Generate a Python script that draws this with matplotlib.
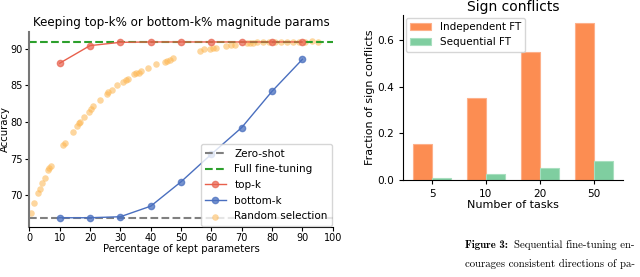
import numpy as np
import matplotlib
matplotlib.use("Agg")
from matplotlib import pyplot as plt

# left panel data
pct = [10, 20, 30, 40, 50, 60, 70, 80, 90]
topk = [88.0, 90.4, 90.85, 90.9, 90.9, 90.9, 90.9, 90.9, 90.9]
bottomk = [66.92, 66.92, 67.06, 68.5, 71.83, 75.6, 79.23, 84.18, 88.54]
zero_shot = 66.9
full_ft = 90.95

rand_x = [0.45, 1.6, 2.96, 3.5, 4.3, 5.2, 6.25, 6.6, 7.0, 11.0, 11.7, 14.3, 15.8, 16.4,
          16.7, 18.1, 19.6, 20.3, 21.1, 23.3, 25.5, 26.0, 27.4, 28.9, 30.9, 31.7, 32.6,
          34.4, 35.3, 36.1, 36.9, 39.1, 41.9, 44.6, 45.5, 46.3, 47.4, 56.2, 57.5, 59.4,
          60.5, 61.6, 64.9, 66.6, 67.7, 71.6, 72.6, 73.6, 75, 77, 79, 81, 83, 85, 87,
          89, 91, 93, 95]
rand_y = [67.6, 69.0, 70.25, 70.8, 71.7, 72.3, 73.4, 73.7, 74.0, 76.8, 77.1, 78.6, 79.4,
          79.8, 80.0, 80.6, 81.4, 81.7, 82.1, 83.0, 83.8, 84.1, 84.4, 85.0, 85.5, 85.7,
          85.8, 86.5, 86.6, 86.7, 86.95, 87.4, 87.9, 88.2, 88.3, 88.5, 88.7, 89.7, 89.9,
          90.0, 90.1, 90.1, 90.3, 90.45, 90.5, 90.7, 90.7, 90.8, 90.85, 90.9, 90.9, 90.9,
          90.95, 90.9, 90.95, 90.9, 90.95, 91.0, 90.95]

# right panel data
tasks = ["5", "10", "20", "50"]
indep = [0.154, 0.352, 0.550, 0.675]
seq = [0.007, 0.025, 0.050, 0.082]

fig = plt.figure(figsize=(6.4, 2.77), dpi=100)

ax = fig.add_axes([0.0458, 0.1816, 0.4742, 0.704])
ax.axhline(zero_shot, color="gray", ls="--", lw=1.5, label="Zero-shot")
ax.axhline(full_ft, color="#2ca02c", ls="--", lw=1.5, label="Full fine-tuning")
ax.plot(pct, topk, "-o", color="#e8604c", lw=1, ms=4.5, mfc=(0.91, 0.38, 0.3, 0.7),
        mec=(0.91, 0.38, 0.3, 0.7), label="top-k")
ax.plot(pct, bottomk, "-o", color="#4a6fbf", lw=1, ms=4.5, mfc=(0.29, 0.44, 0.75, 0.75),
        mec=(0.29, 0.44, 0.75, 0.75), label="bottom-k")
ax.scatter(rand_x, rand_y, s=22, color="#fdb54e", alpha=0.55, lw=0, label="Random selection")
ax.set_xlim(0, 100)
ax.set_ylim(65.7, 92.3)
ax.set_xticks(range(0, 101, 10))
ax.set_yticks([70, 75, 80, 85, 90])
ax.spines["right"].set_visible(False)
ax.spines["top"].set_visible(False)
ax.spines["left"].set_color("#777777")
ax.spines["left"].set_linewidth(1.5)
ax.tick_params(labelsize=7, length=3, pad=1.5)
ax.set_xlabel("Percentage of kept parameters", fontsize=7.3, labelpad=1)
ax.set_ylabel("Accuracy", fontsize=7.3, labelpad=0.5)
ax.set_title("Keeping top-k% or bottom-k% magnitude params", fontsize=8.6, pad=4)
ax.legend(loc="lower right", fontsize=7.5, handlelength=2, borderaxespad=0.1,
          labelspacing=0.55, framealpha=0.8)

ax2 = fig.add_axes([0.63, 0.35, 0.343, 0.596])
xi = np.arange(len(tasks))
w = 0.35
ax2.bar(xi - w / 2, indep, w, color="#fc8d52", edgecolor="#fdb08a", lw=0.8, label="Independent FT")
ax2.bar(xi + w / 2, seq, w, color="#7fcea0", edgecolor="#a8dfbf", lw=0.8, label="Sequential FT")
ax2.set_xticks(xi)
ax2.set_xticklabels(tasks)
ax2.set_yticks([0.0, 0.2, 0.4, 0.6])
ax2.spines["right"].set_visible(False)
ax2.spines["top"].set_visible(False)
ax2.tick_params(labelsize=7.6, length=3)
ax2.set_xlabel("Number of tasks", fontsize=8, labelpad=1)
ax2.set_ylabel("Fraction of sign conflicts", fontsize=8, labelpad=2)
ax2.set_title("Sign conflicts", fontsize=10, pad=3)
ax2.legend(loc="upper left", fontsize=7.5, borderaxespad=0.3)

# caption (runs to the right edge, as in the source page)
fig.text(465 / 640, 1 - 245 / 277, "Figure 3:", family="cmb10", fontsize=7.8, va="center")
fig.text(514 / 640, 1 - 245 / 277, "Sequential fine-tuning en-", family="cmr10",
         fontsize=7.8, va="center")
fig.text(465 / 640, 1 - 264 / 277, "courages consistent directions of pa-", family="cmr10",
         fontsize=7.8, va="center")

plt.savefig("out.png", dpi=100)
